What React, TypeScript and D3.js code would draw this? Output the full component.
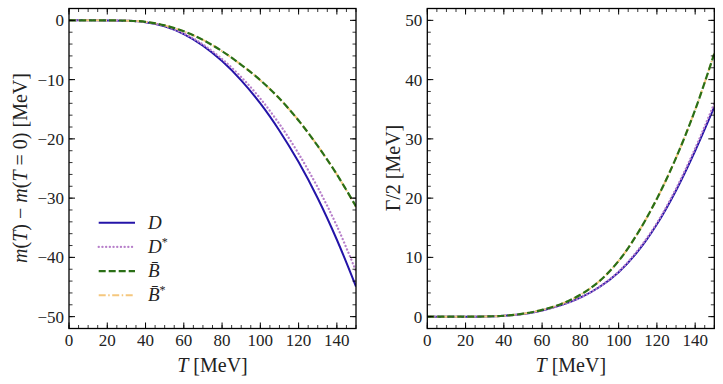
import React from "react";
import * as d3 from "d3";

// temperature grid, MeV
const temps = [0, 10, 20, 30, 40, 50, 60, 70, 80, 90, 100, 110, 120, 130, 140, 150];

// m(T) - m(T=0), MeV
const massD = [0, 0, -0.01, -0.07, -0.32, -1.02, -2.32, -4.27, -6.87, -10.12, -14.02, -18.62, -23.92, -30.02, -37.02, -44.92];
const massDstar = [0, 0, -0.01, -0.07, -0.31, -0.98, -2.22, -4.07, -6.52, -9.57, -13.2, -17.5, -22.5, -28.2, -34.7, -42.3];
const massB = [0, 0, -0.01, -0.05, -0.25, -0.85, -1.85, -3.3, -5.2, -7.5, -10.1, -13.2, -16.9, -21.2, -26.0, -31.4];
const massBstar = [0, 0, -0.01, -0.05, -0.25, -0.85, -1.85, -3.3, -5.2, -7.5, -10.1, -13.2, -16.9, -21.2, -26.0, -31.5];

// Gamma/2, MeV
const widthD = [0, 0, 0, 0.03, 0.15, 0.45, 1.05, 1.95, 3.2, 5.0, 7.5, 11.0, 15.6, 21.3, 28.0, 35.4];
const widthDstar = [0, 0, 0, 0.03, 0.15, 0.45, 1.05, 1.95, 3.2, 5.05, 7.6, 11.2, 15.8, 21.6, 28.4, 36.0];
const widthB = [0, 0, 0, 0.03, 0.15, 0.5, 1.15, 2.15, 3.7, 6.0, 9.4, 14.1, 19.9, 26.8, 34.9, 44.4];
const widthBstar = [0, 0, 0, 0.03, 0.15, 0.5, 1.15, 2.15, 3.7, 6.0, 9.4, 14.1, 19.9, 26.8, 34.9, 44.4];

const xTicks = [0, 20, 40, 60, 80, 100, 120, 140];
const massTicks = [0, -10, -20, -30, -40, -50];
const widthTicks = [0, 10, 20, 30, 40, 50];

const styles = [
  { key: "D", color: "#2414a8", dash: null, width: 2 },
  { key: "Dstar", color: "#b77fca", dash: "0.1 3.6", width: 2.3, cap: "round" },
  { key: "Bstar", color: "#f5c77e", dash: "7 2.5 1.5 2.5", width: 2 },
  { key: "B", color: "#2a6f16", dash: "7 3", width: 2.2 },
];

const FONT = "'Liberation Serif', 'DejaVu Serif', serif";
const TOP = 8.5;
const BOTTOM = 328.5;

const Panel = ({ x0, x1, yDomain, yTicks, series, fmt }) => {
  const x = d3.scaleLinear().domain([0, 150]).range([x0, x1]);
  const y = d3.scaleLinear().domain(yDomain).range([BOTTOM, TOP]);
  const line = d3
    .line()
    .x((d) => x(d[0]))
    .y((d) => y(d[1]))
    .curve(d3.curveCatmullRom.alpha(0.5));

  const xMinor = d3.range(0, 151, 5);
  const yMinor = d3.range(Math.ceil(yDomain[0] / 2) * 2, yDomain[1] + 0.01, 2);

  return (
    <g>
      <defs>
        <clipPath id={`clip${Math.round(x0)}`}>
          <rect x={x0} y={TOP} width={x1 - x0} height={BOTTOM - TOP} />
        </clipPath>
      </defs>
      <g clipPath={`url(#clip${Math.round(x0)})`}>
        {styles.map((s) => (
          <path
            key={s.key}
            d={line(temps.map((t, i) => [t, series[s.key][i]]))}
            fill="none"
            stroke={s.color}
            strokeWidth={s.width}
            strokeDasharray={s.dash || undefined}
            strokeLinecap={s.cap || "butt"}
          />
        ))}
      </g>
      {/* minor ticks */}
      {xMinor.map((v) => (
        <g key={"xm" + v} stroke="#000" strokeWidth={0.8}>
          <line x1={x(v)} x2={x(v)} y1={BOTTOM} y2={BOTTOM - 3.5} />
          <line x1={x(v)} x2={x(v)} y1={TOP} y2={TOP + 3.5} />
        </g>
      ))}
      {yMinor.map((v) => (
        <g key={"ym" + v} stroke="#000" strokeWidth={0.8}>
          <line x1={x0} x2={x0 + 3.5} y1={y(v)} y2={y(v)} />
          <line x1={x1} x2={x1 - 3.5} y1={y(v)} y2={y(v)} />
        </g>
      ))}
      {/* major ticks */}
      {xTicks.map((v) => (
        <g key={"xt" + v}>
          <line x1={x(v)} x2={x(v)} y1={BOTTOM} y2={BOTTOM - 6} stroke="#000" strokeWidth={1} />
          <line x1={x(v)} x2={x(v)} y1={TOP} y2={TOP + 6} stroke="#000" strokeWidth={1} />
          <text x={x(v)} y={346} textAnchor="middle" fontSize={17} fontFamily={FONT} fill="#222">
            {v}
          </text>
        </g>
      ))}
      {yTicks.map((v) => (
        <g key={"yt" + v}>
          <line x1={x0} x2={x0 + 6} y1={y(v)} y2={y(v)} stroke="#000" strokeWidth={1} />
          <line x1={x1} x2={x1 - 6} y1={y(v)} y2={y(v)} stroke="#000" strokeWidth={1} />
          <text
            x={x0 - 5}
            y={y(v)}
            dy="0.35em"
            textAnchor="end"
            fontSize={17}
            fontFamily={FONT}
            fill="#222"
          >
            {fmt(v)}
          </text>
        </g>
      ))}
      <rect x={x0} y={TOP} width={x1 - x0} height={BOTTOM - TOP} fill="none" stroke="#000" strokeWidth={1.3} />
      <text x={(x0 + x1) / 2} y={372} textAnchor="middle" fontSize={20} fontFamily={FONT} fill="#222">
        <tspan fontStyle="italic">T</tspan> [MeV]
      </text>
    </g>
  );
};

const legendRows = [
  { key: "D", label: <tspan fontStyle="italic">D</tspan> },
  {
    key: "Dstar",
    label: (
      <>
        <tspan fontStyle="italic">D</tspan>
        <tspan dy={-7} fontSize={12}>*</tspan>
      </>
    ),
  },
  { key: "B", label: <tspan fontStyle="italic">B̄</tspan> },
  {
    key: "Bstar",
    label: (
      <>
        <tspan fontStyle="italic">B̄</tspan>
        <tspan dy={-7} fontSize={12}>*</tspan>
      </>
    ),
  },
];

const minus = (v) => (v < 0 ? "\u2212" + Math.abs(v) : String(v));

export default function App() {
  const massSeries = { D: massD, Dstar: massDstar, B: massB, Bstar: massBstar };
  const widthSeries = { D: widthD, Dstar: widthDstar, B: widthB, Bstar: widthBstar };
  const legendY = d3.scalePoint().domain(legendRows.map((r) => r.key)).range([222.7, 295.3]);

  return (
    <div style={{ position: "absolute", left: 0, top: 0 }}>
      <svg width={723} height={384} style={{ display: "block", background: "#fff" }}>
        <Panel x0={69} x1={356} yDomain={[-52, 2]} yTicks={massTicks} series={massSeries} fmt={minus} />
        <Panel x0={427.3} x1={714.3} yDomain={[-2, 52]} yTicks={widthTicks} series={widthSeries} fmt={minus} />

        {legendRows.map((r) => {
          const s = styles.find((st) => st.key === r.key);
          const yy = legendY(r.key);
          return (
            <g key={"lg" + r.key}>
              <line
                x1={98.7}
                x2={135}
                y1={yy}
                y2={yy}
                stroke={s.color}
                strokeWidth={s.width}
                strokeDasharray={s.dash || undefined}
                strokeLinecap={s.cap || "butt"}
              />
              <text x={148} y={yy + 6} fontSize={19} fontFamily={FONT} fill="#222">
                {r.label}
              </text>
            </g>
          );
        })}

        <text
          transform="translate(27,168) rotate(-90)"
          textAnchor="middle"
          fontSize={20}
          fontFamily={FONT}
          fill="#222"
        >
          <tspan fontStyle="italic">m</tspan>(<tspan fontStyle="italic">T</tspan>) − <tspan fontStyle="italic">m</tspan>(
          <tspan fontStyle="italic">T</tspan> = 0) [MeV]
        </text>
        <text
          transform="translate(400,168) rotate(-90)"
          textAnchor="middle"
          fontSize={20}
          fontFamily={FONT}
          fill="#222"
        >
          Γ/2 [MeV]
        </text>
      </svg>
    </div>
  );
}
